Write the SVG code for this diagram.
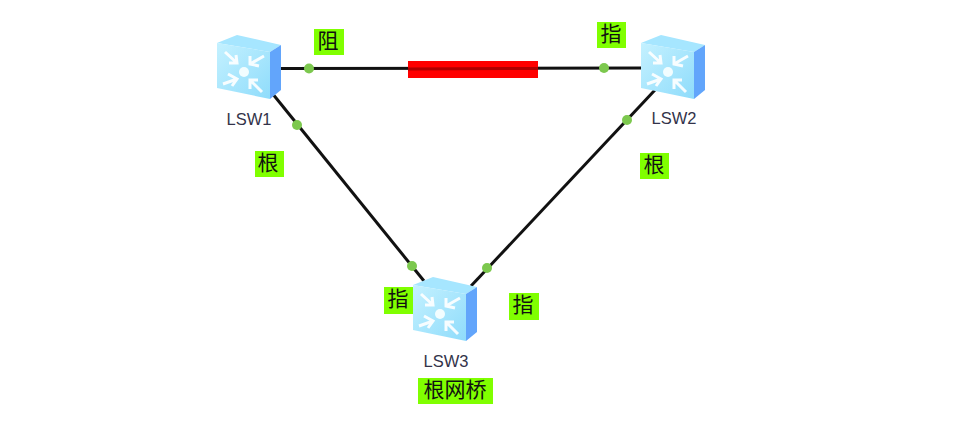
<svg xmlns="http://www.w3.org/2000/svg" width="964" height="423" viewBox="0 0 964 423">
<style>
.lk{stroke:#111;stroke-width:3;fill:none}
.dot{fill:#7cc84e}
.tag{fill:#80ff00}
.cn{font-family:"Noto Sans CJK SC","Noto Sans CJK JP",sans-serif;font-size:21px;fill:#111;text-anchor:middle}
.nm{font-family:"Liberation Sans",Arial,sans-serif;font-size:16.500px;fill:#33334a;text-anchor:middle}
.ar{fill:none;stroke:#fff;stroke-width:3;stroke-opacity:.9}
</style>
<defs>
<linearGradient id="fr" x1="0" y1="0" x2="1" y2="1"><stop offset="0" stop-color="#c4f1ff"/><stop offset="1" stop-color="#8fdcfb"/></linearGradient>
<g id="sw">
<polygon points="0,0 20,-8 64,2 53,9" fill="#a6e6ff"/>
<polygon points="53,9 64,2 64,47 53,56" fill="#62a5fb"/>
<polygon points="0,0 53,9 53,56 0,45" fill="url(#fr)"/>
<circle cx="27" cy="29" r="5" fill="#f2fdff"/>
<path class="ar" d="M8,9 L20,20 M19,12 L20,20 L12,20"/>
<path class="ar" d="M47,13 L33,21 M33,13 L33,21 L42,23"/>
<path class="ar" d="M6,41 L20,36 M11,31 L20,36 L15,43"/>
<path class="ar" d="M45,49 L33,37 M41,37 L33,37 L33,46"/>
</g>
</defs>
<rect width="964" height="423" fill="#fff"/>
<g id="connectors">
<line class="lk" x1="279" y1="68.500" x2="643" y2="68"/>
<rect x="408" y="61" width="130" height="17" fill="#ff0000"/>
<line x1="408" y1="69" x2="538" y2="68.500" stroke="#b00000" stroke-width="3"/>
<line class="lk" x1="272" y1="93" x2="424" y2="281"/>
<line class="lk" x1="655" y1="90" x2="471" y2="286"/>
<circle class="dot" cx="309" cy="68.500" r="5"/>
<circle class="dot" cx="604" cy="68" r="5"/>
<circle class="dot" cx="297" cy="125" r="5"/>
<circle class="dot" cx="627" cy="120" r="5"/>
<circle class="dot" cx="412" cy="266" r="5"/>
<circle class="dot" cx="487" cy="268" r="5"/>
</g>
<g id="LSW1"><use href="#sw" x="217" y="43"/><text class="nm" x="249" y="125">LSW1</text></g>
<g id="LSW2"><use href="#sw" x="641" y="43"/><text class="nm" x="674" y="124">LSW2</text></g>
<g id="LSW3"><use href="#sw" x="413" y="285"/><text class="nm" x="446" y="367">LSW3</text></g>
<g id="label-zu"><rect class="tag" x="314" y="29" width="30" height="26"/><text class="cn" x="328" y="48">阻</text></g>
<g id="label-zhi-lsw2"><rect class="tag" x="597" y="22" width="29" height="26"/><text class="cn" x="611" y="41">指</text></g>
<g id="label-gen-lsw1"><rect class="tag" x="255" y="151" width="29" height="26"/><text class="cn" x="268" y="170">根</text></g>
<g id="label-gen-lsw2"><rect class="tag" x="640" y="153" width="29" height="26"/><text class="cn" x="654" y="172">根</text></g>
<g id="label-zhi-lsw3-left"><rect class="tag" x="384" y="287" width="29" height="27"/><text class="cn" x="398" y="306">指</text></g>
<g id="label-zhi-lsw3-right"><rect class="tag" x="509" y="293" width="30" height="27"/><text class="cn" x="523" y="312">指</text></g>
<g id="label-root"><rect class="tag" x="418" y="378" width="75" height="26"/><text class="cn" x="455" y="397">根网桥</text></g>
</svg>
